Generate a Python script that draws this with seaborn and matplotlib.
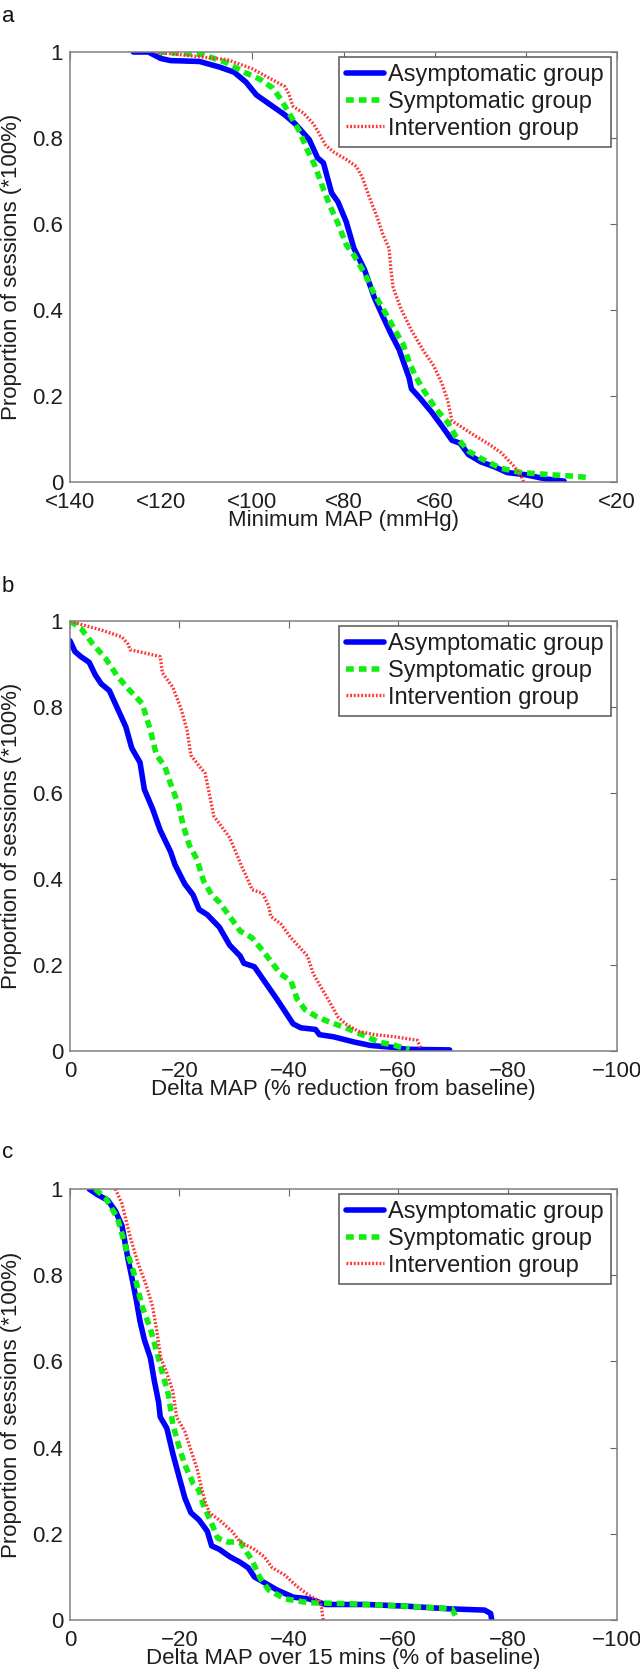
import matplotlib
matplotlib.use("Agg")
import matplotlib.pyplot as plt
import seaborn as sns
import pandas as pd

# data (x = threshold / reduction, y = proportion of sessions)
GROUPS = ["Asymptomatic group", "Symptomatic group", "Intervention group"]

# panel a: minimum MAP (mmHg), axis runs 140 -> 20
a_asym_x = [126.1, 122.8, 120.1, 117.9, 111.6, 107.2, 104.0, 101.4, 99.1, 96.4, 92.9, 90.6, 87.5, 85.7, 84.4,
            82.6, 81.2, 79.4, 77.7, 75.4, 73.2, 71.4, 69.6, 67.8, 65.6, 65.1, 63.3, 60.7, 58.4, 56.2, 54.4,
            52.6, 49.9, 46.8, 44.1, 40.1, 35.6, 31.6]
a_asym_y = [1.0, 1.0, 0.985, 0.98, 0.978, 0.965, 0.953, 0.93, 0.90, 0.88, 0.854, 0.833, 0.796, 0.754, 0.742,
            0.672, 0.651, 0.605, 0.543, 0.494, 0.428, 0.386, 0.345, 0.308, 0.242, 0.217, 0.196, 0.163, 0.13,
            0.097, 0.09, 0.064, 0.047, 0.035, 0.022, 0.017, 0.007, 0.002]
a_sym_x = [120.6, 110.8, 105.4, 101.8, 98.2, 95.5, 93.8, 91.5, 89.7, 87.9, 86.2, 84.8, 83.0, 81.2, 79.4, 77.7,
           75.4, 73.2, 70.9, 68.7, 66.9, 65.6, 64.2, 62.4, 59.8, 57.1, 55.3, 52.6, 49.9, 45.5, 41.0, 34.7,
           30.2, 25.8]
a_sym_y = [1.0, 0.994, 0.974, 0.953, 0.936, 0.916, 0.891, 0.85, 0.816, 0.771, 0.734, 0.692, 0.643, 0.601,
           0.552, 0.527, 0.486, 0.436, 0.395, 0.353, 0.32, 0.279, 0.246, 0.213, 0.171, 0.138, 0.105, 0.072,
           0.055, 0.032, 0.022, 0.017, 0.014, 0.01]
a_int_x = [121.5, 112.5, 105.4, 100.0, 96.4, 92.9, 92.0, 91.1, 88.8, 86.6, 84.8, 83.9, 82.1, 79.4, 77.2, 75.9,
           74.5, 72.7, 71.4, 70.0, 69.6, 69.1, 67.4, 65.1, 62.4, 60.2, 58.4, 57.1, 56.2, 54.4, 50.8, 48.1,
           45.4, 42.8, 41.0, 40.5]
a_int_y = [1.0, 0.99, 0.982, 0.961, 0.94, 0.92, 0.903, 0.874, 0.858, 0.833, 0.8, 0.783, 0.767, 0.75, 0.734,
           0.709, 0.667, 0.618, 0.577, 0.543, 0.494, 0.452, 0.403, 0.353, 0.304, 0.27, 0.229, 0.188, 0.142,
           0.13, 0.105, 0.088, 0.068, 0.039, 0.014, 0.0]

# panel b: delta MAP (% reduction from baseline)
b_asym_x = [0, -0.9, -2.0, -3.5, -4.6, -5.7, -7.2, -8.7, -10.2, -11.3, -12.8, -13.6, -15.1, -16.5, -18.4, -19.2,
            -21.0, -22.5, -23.6, -25.1, -27.3, -29.2, -31.1, -31.8, -33.7, -35.5, -37.8, -39.3, -40.8, -42.2,
            -44.9, -45.6, -48.2, -51.9, -54.9, -59.4, -61.6, -69.4]
b_asym_y = [0.954, 0.929, 0.917, 0.904, 0.875, 0.854, 0.838, 0.796, 0.754, 0.704, 0.671, 0.608, 0.563, 0.513,
            0.463, 0.433, 0.388, 0.363, 0.329, 0.317, 0.288, 0.246, 0.221, 0.204, 0.196, 0.163, 0.121, 0.092,
            0.063, 0.054, 0.05, 0.038, 0.033, 0.021, 0.013, 0.008, 0.004, 0.0025]
b_sym_x = [0, -2.0, -4.2, -6.5, -8.7, -10.95, -13.2, -14.7, -15.8, -17.3, -18.4, -19.9, -20.6, -21.8, -23.2,
           -24.4, -25.9, -27.3, -29.2, -31.1, -33.3, -35.5, -38.5, -40.4, -41.5, -43.0, -45.2, -47.5, -50.4,
           -53.4, -56.4, -59.4, -62.0]
b_sym_y = [1.0, 0.983, 0.946, 0.913, 0.871, 0.838, 0.808, 0.746, 0.688, 0.663, 0.621, 0.571, 0.529, 0.479,
           0.446, 0.396, 0.363, 0.346, 0.313, 0.279, 0.263, 0.229, 0.179, 0.163, 0.121, 0.096, 0.079, 0.067,
           0.054, 0.038, 0.021, 0.013, 0.0025]
b_int_x = [0, -2.0, -5.7, -9.5, -10.6, -11.0, -13.9, -16.5, -16.9, -18.8, -20.3, -21.4, -22.1, -23.6, -24.7,
           -25.5, -26.3, -27.3, -29.2, -30.3, -31.4, -32.6, -33.3, -35.2, -36.3, -36.7, -38.5, -40.4, -42.2,
           -43.4, -44.5, -46.0, -47.5, -49.0, -50.4, -52.7, -55.7, -59.4, -63.5, -64.2]
b_int_y = [1.0, 0.992, 0.979, 0.963, 0.946, 0.933, 0.925, 0.917, 0.879, 0.846, 0.796, 0.746, 0.688, 0.663,
           0.646, 0.596, 0.546, 0.529, 0.496, 0.463, 0.429, 0.396, 0.375, 0.367, 0.338, 0.313, 0.296, 0.263,
           0.238, 0.221, 0.179, 0.146, 0.113, 0.079, 0.063, 0.046, 0.038, 0.033, 0.025, 0.004]

# panel c: delta MAP over 15 mins (% of baseline)
c_asym_x = [-3.5, -5.0, -6.9, -8.3, -9.5, -10.6, -11.3, -12.1, -12.8, -13.6, -14.7, -15.4, -16.2, -16.5, -17.7,
            -18.8, -19.9, -21.0, -22.1, -23.6, -25.1, -25.9, -27.3, -29.2, -31.1, -32.6, -33.7, -35.5, -37.8,
            -40.8, -43.7, -46.7, -54.2, -61.6, -69.1, -75.8, -76.9, -77.1]
c_asym_y = [1.0, 0.987, 0.974, 0.949, 0.915, 0.838, 0.795, 0.744, 0.693, 0.65, 0.608, 0.556, 0.505, 0.471,
            0.445, 0.386, 0.334, 0.283, 0.249, 0.232, 0.206, 0.172, 0.164, 0.147, 0.134, 0.121, 0.1, 0.087,
            0.07, 0.053, 0.049, 0.036, 0.036, 0.032, 0.026, 0.023, 0.015, 0.0]
c_sym_x = [-4.6, -6.5, -8.7, -10.2, -11.7, -13.2, -14.7, -15.8, -16.9, -18.0, -18.8, -19.9, -21.0, -22.5, -23.6,
           -24.4, -25.9, -27.0, -28.8, -31.1, -33.3, -34.8, -36.3, -39.3, -43.7, -50.4, -61.6, -69.8, -70.9]
c_sym_y = [1.0, 0.979, 0.932, 0.864, 0.804, 0.727, 0.676, 0.625, 0.573, 0.522, 0.454, 0.403, 0.36, 0.317, 0.3,
           0.266, 0.224, 0.19, 0.181, 0.181, 0.138, 0.096, 0.07, 0.049, 0.04, 0.038, 0.032, 0.026, 0.0]
c_int_x = [-8.3, -9.5, -11.0, -12.4, -13.9, -15.1, -15.8, -16.6, -17.7, -18.8, -19.5, -21.0, -22.1, -23.2, -24.0,
           -24.7, -25.5, -27.3, -29.6, -31.1, -33.7, -35.5, -37.0, -39.3, -41.5, -43.7, -45.6, -46.0, -46.3]
c_int_y = [1.0, 0.966, 0.889, 0.829, 0.778, 0.727, 0.676, 0.608, 0.573, 0.531, 0.471, 0.437, 0.394, 0.352,
           0.309, 0.275, 0.249, 0.232, 0.206, 0.181, 0.164, 0.147, 0.121, 0.104, 0.078, 0.057, 0.044, 0.027, 0.0]

a_xticks = [140, 120, 100, 80, 60, 40, 20]
a_xticklabels = ["<140", "<120", "<100", "<80", "<60", "<40", "<20"]
bc_xticks = [0, -20, -40, -60, -80, -100]
yticks = [0, 0.2, 0.4, 0.6, 0.8, 1]
yticklabels = ["0", "0.2", "0.4", "0.6", "0.8", "1"]

# style
sns.set_style("white")
plt.rcParams["font.family"] = ["Liberation Sans", "DejaVu Sans"]
plt.rcParams["font.size"] = 16
plt.rcParams["axes.unicode_minus"] = True
FS = 16
TXT = "#1e1e1e"
STYLES = {
    "Asymptomatic group": dict(color="#0000ff", linestyle="-", linewidth=4.0),
    "Symptomatic group": dict(color="#11ee11", linestyle=(0, (1.4, 0.9)), linewidth=4.0),
    "Intervention group": dict(color="#ff3535", linestyle=(0, (0.55, 0.55)), linewidth=2.4),
}

fig = plt.figure(figsize=(6.4, 16.78), dpi=100)
W, H = 640, 1678
boxes = [(70, 52, 617, 482), (70, 621, 617, 1051), (70, 1189, 617, 1620)]
panels = [
    ("a", [(a_asym_x, a_asym_y), (a_sym_x, a_sym_y), (a_int_x, a_int_y)], "Minimum MAP (mmHg)"),
    ("b", [(b_asym_x, b_asym_y), (b_sym_x, b_sym_y), (b_int_x, b_int_y)], "Delta MAP (% reduction from baseline)"),
    ("c", [(c_asym_x, c_asym_y), (c_sym_x, c_sym_y), (c_int_x, c_int_y)], "Delta MAP over 15 mins (% of baseline)"),
]
letter_y = [17, 586, 1153]

for (letter, series, xlabel), (x0, y0, x1, y1), ly in zip(panels, boxes, letter_y):
    ax = fig.add_axes([x0 / W, 1 - y1 / H, (x1 - x0) / W, (y1 - y0) / H])
    for name, (xs, ys) in zip(GROUPS, series):
        df = pd.DataFrame({"x": xs, "y": ys})
        sns.lineplot(data=df, x="x", y="y", sort=False, estimator=None, ax=ax,
                     label=name, **STYLES[name])
    if letter == "a":
        ax.set_xlim(140, 20)
        ax.set_xticks(a_xticks)
        ax.set_xticklabels(a_xticklabels)
    else:
        ax.set_xlim(0, -100)
        ax.set_xticks(bc_xticks)
    ax.set_ylim(0, 1)
    ax.set_yticks(yticks)
    ax.set_yticklabels(yticklabels)
    ax.set_xlabel(xlabel, fontsize=FS, color=TXT)
    ax.set_ylabel("Proportion of sessions (*100%)", fontsize=16, color=TXT)
    ax.xaxis.set_label_coords(0.5, -0.064)
    ax.yaxis.set_label_coords(-0.088, 0.5)
    ax.tick_params(axis="x", pad=7)
    ax.tick_params(axis="y", pad=5)
    ax.tick_params(direction="in", length=5, width=0.8, color="#666666", top=True, right=True,
                   labelsize=FS, labelcolor=TXT)
    for s in ax.spines.values():
        s.set_color("#808080")
        s.set_linewidth(1.1)
    leg = ax.legend(loc="upper right", bbox_to_anchor=(0.989, 0.988), borderaxespad=0,
                    fancybox=False, framealpha=1, edgecolor="#555555", fontsize=17,
                    handlelength=1.6, handletextpad=0.2, labelspacing=0.2, borderpad=0.3)
    leg.get_frame().set_linewidth(1.1)
    for t in leg.get_texts():
        t.set_color(TXT)
    fig.text(2 / W, 1 - ly / H, letter, fontsize=16, va="center", ha="left", color="#111111")

fig.savefig("out.png", dpi=100)
